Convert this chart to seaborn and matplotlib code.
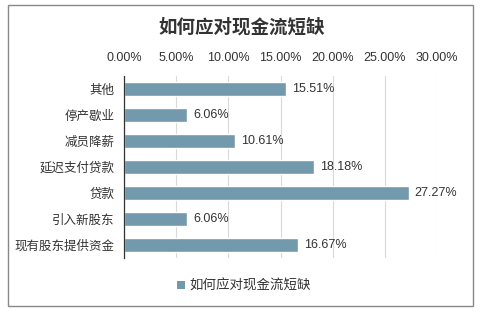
import matplotlib
matplotlib.use("Agg")
import matplotlib.pyplot as plt
import seaborn as sns
import pandas as pd
from matplotlib.patches import Rectangle, Patch

categories = ["其他", "停产歇业", "减员降薪", "延迟支付贷款", "贷款", "引入新股东", "现有股东提供资金"]
values = [15.51, 6.06, 10.61, 18.18, 27.27, 6.06, 16.67]
xticks = [0, 5, 10, 15, 20, 25, 30]
title = "如何应对现金流短缺"

sns.set_theme(style="white")
plt.rcParams['font.family'] = ['Liberation Sans', 'Noto Sans CJK SC', 'DejaVu Sans']

color = "#7399AD"
df = pd.DataFrame({"cat": categories, "val": values})

fig = plt.figure(figsize=(4.89, 3.16), dpi=100)
ax = fig.add_axes([124/489, 1-258/316, (437-124)/489, (258-76)/316])
sns.barplot(data=df, x="val", y="cat", color=color, width=0.53, saturation=1, ax=ax)

ax.set_xlim(0, 30)
ax.xaxis.tick_top()
ax.set_xticks(xticks)
ax.set_xticklabels([f"{t:.2f}%" for t in xticks], fontsize=9, color="#333333")
ax.tick_params(axis="x", length=0, pad=9)
ax.tick_params(axis="y", length=0, pad=7, labelsize=9, labelcolor="#333333")
ax.set_xlabel("")
ax.set_ylabel("")
ax.grid(axis="x", color="#d9d9d9", linewidth=0.8)
ax.set_axisbelow(True)
for s in ["top", "right", "bottom"]:
    ax.spines[s].set_visible(False)
ax.spines["left"].set_color("#333333")
ax.spines["left"].set_linewidth(0.9)

for i, v in enumerate(values):
    ax.text(v + 0.6, i, f"{v:.2f}%", va="center", ha="left", fontsize=9, color="#333333")

fig.text(0.5 - 3/489, 1-27/316, title, ha="center", va="center", fontsize=13.3, fontweight="bold", color="#333333")

fig.legend(handles=[Patch(facecolor=color, edgecolor="none")], labels=[title],
           loc="center", bbox_to_anchor=(244/489, 1-286/316), frameon=False,
           fontsize=9.7, handlelength=0.6, handleheight=0.6, handletextpad=0.3,
           labelcolor="#333333")

fig.patches.append(Rectangle((8/489, 1-306/316), (473-8)/489, (306-5)/316,
                             transform=fig.transFigure, fill=False,
                             edgecolor="#888888", linewidth=1))

fig.savefig("out.png", dpi=100)
